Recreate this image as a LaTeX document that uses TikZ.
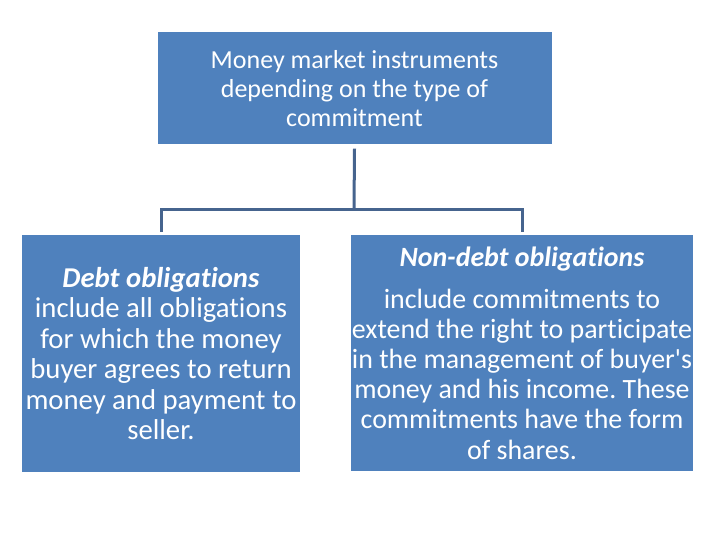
\documentclass[tikz,border=0pt]{standalone}
\usepackage{fontspec}
\setmainfont[Ligatures=NoCommon]{Carlito}
\begin{document}
\frenchspacing
\begin{tikzpicture}[x=1bp,y=-1bp,
  box/.style={draw=none,fill=boxblue,text=white,align=center,inner sep=0pt},
  conn/.style={draw=linecol,line width=3bp}]
\definecolor{boxblue}{HTML}{4F81BD}
\definecolor{linecol}{HTML}{46648E}
\useasboundingbox (0,0) rectangle (720,540);
\node[box,minimum width=394bp,minimum height=112bp,font=\fontsize{26bp}{29bp}\selectfont] (top) at (354.5,88.5)
  {Money market instruments\\depending on the type of\\commitment};
\node[box,minimum width=278bp,minimum height=237bp,font=\fontsize{28.7bp}{30.4bp}\selectfont] (lb) at (161,353.5)
  {\textbf{\textit{Debt obligations}}\\include all obligations\\for which the money\\buyer agrees to return\\money and payment to\\seller.};
\node[box,minimum width=342bp,minimum height=236bp,font=\fontsize{27.9bp}{30.2bp}\selectfont] (rb) at (522,353)
  {\textbf{\textit{Non-debt obligations}}\\[11.5bp]include commitments to\\extend the right to participate\\in the management of buyer\textquotesingle s\\money and his income. These\\commitments have the form\\of shares.};
\coordinate (mid) at (354,210);
\draw[conn] ([yshift=-4bp]top.south) -- (mid);
\draw[conn] ([yshift=3bp]lb.north) |- (mid) -| ([yshift=3bp]rb.north);
\end{tikzpicture}
\end{document}
